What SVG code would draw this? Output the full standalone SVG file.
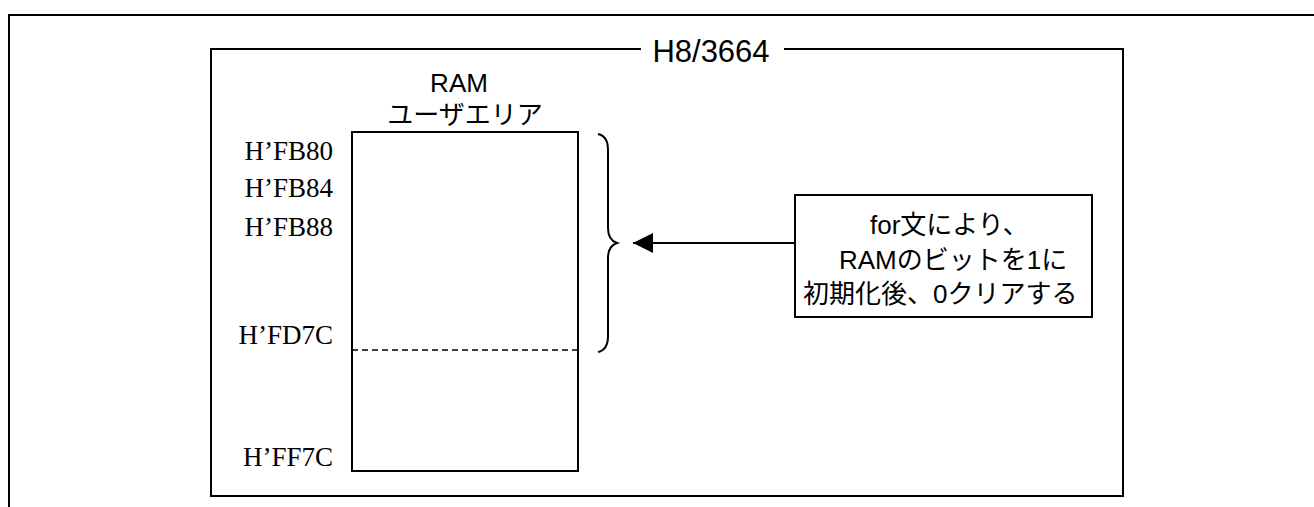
<svg xmlns="http://www.w3.org/2000/svg" width="1314" height="507" viewBox="0 0 1314 507">
<defs>
<style>
.ln{stroke:#000;stroke-width:2;fill:none}
.bx{stroke:#000;stroke-width:2;fill:#fff}
.s{font-family:"Liberation Sans","Noto Sans CJK JP",sans-serif;font-size:26px;fill:#000}
.a{font-family:"Liberation Serif","Noto Sans CJK JP",serif;font-size:27px;fill:#000;text-anchor:end}
</style>
<marker id="ah" markerWidth="20" markerHeight="20" refX="20" refY="10" orient="auto" markerUnits="userSpaceOnUse" viewBox="0 0 20 20">
<path d="M0,0 L20,10 L0,20 Z" fill="#000"/>
</marker>
</defs>
<rect width="1314" height="507" fill="#fff"/>
<g id="frame">
<path class="ln" d="M9,507 L9,15 L1314,15"/>
</g>
<g id="h8">
<path class="ln" d="M641,49 L211,49 L211,496 L1123,496 L1123,49 L784,49"/>
<text class="s" x="711" y="62" text-anchor="middle" style="font-size:31px">H8/3664</text>
</g>
<g id="ram">
<text class="s" x="459" y="92" text-anchor="middle">RAM</text>
<text class="s" x="465" y="124" text-anchor="middle">ユーザエリア</text>
<rect class="bx" x="352" y="132" width="226" height="339"/>
<line x1="352" y1="350" x2="578" y2="350" stroke="#000" stroke-width="1.5" stroke-dasharray="6,4"/>
</g>
<g id="addresses">
<text class="a" x="333" y="160">H’FB80</text>
<text class="a" x="333" y="197">H’FB84</text>
<text class="a" x="333" y="236">H’FB88</text>
<text class="a" x="333" y="344">H’FD7C</text>
<text class="a" x="333" y="466">H’FF7C</text>
</g>
<g id="brace">
<path class="ln" d="M598,134 Q608,136 608,150 L608,228 Q608,240 617,243 Q608,246 608,258 L608,336 Q608,350 598,352"/>
</g>
<g id="note">
<rect class="bx" x="795" y="195" width="297" height="122"/>
<text class="s" x="870" y="234">for文により、</text>
<text class="s" x="839" y="269">RAMのビットを1に</text>
<text class="s" x="803" y="303">初期化後、0クリアする</text>
</g>
<g id="connectors">
<line class="ln" x1="795" y1="243" x2="633" y2="243" marker-end="url(#ah)"/>
</g>
</svg>
